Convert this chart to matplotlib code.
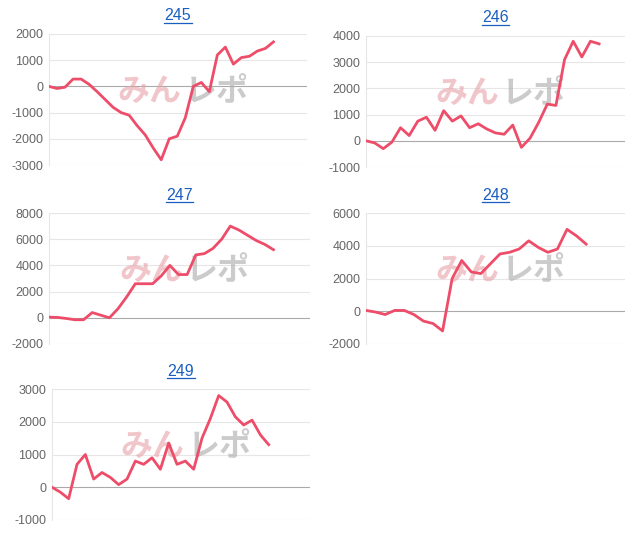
import matplotlib
matplotlib.use("Agg")
import matplotlib.pyplot as plt

plt.rcParams["axes.unicode_minus"] = False
plt.rcParams["font.family"] = ["Liberation Sans", "DejaVu Sans"]

titles = ["245", "246", "247", "248", "249"]
s245 = [0,-80,-30,280,280,80,-200,-500,-800,-1000,-1100,-1500,-1850,-2350,-2800,-2000,-1900,-1200,0,150,-200,1200,1500,850,1100,1150,1350,1450,1700]
s246 = [0,-80,-300,-50,500,200,750,900,400,1150,750,950,500,650,450,300,250,600,-250,100,700,1400,1350,3100,3800,3200,3800,3700]
s247 = [50,30,-50,-150,-150,400,200,0,700,1600,2600,2600,2600,3200,4000,3300,3300,4800,4900,5300,6000,7000,6700,6300,5900,5600,5200]
s248 = [50,-50,-200,50,50,-200,-600,-750,-1200,2000,3100,2400,2300,2900,3500,3600,3800,4300,3900,3600,3800,5000,4600,4100]
s249 = [0,-150,-350,700,1000,250,450,300,80,250,800,700,900,550,1350,700,800,550,1500,2100,2800,2600,2150,1900,2050,1600,1300]
series = [s245, s246, s247, s248, s249]
yticks = [[-3000,-2000,-1000,0,1000,2000],[-1000,0,1000,2000,3000,4000],
          [-2000,0,2000,4000,6000,8000],[-2000,0,2000,4000,6000],[-1000,0,1000,2000,3000]]
endfrac = [0.87, 0.90, 0.86, 0.85, 0.84]

fig = plt.figure(figsize=(6.36, 5.34), dpi=100)
W, H = 636, 534
boxes = [(49,34,307,165),(366,36,625,167),(49,213,310,344),(366,213,625,344),(52,389,310,520)]
for i,(x0,y0,x1,y1) in enumerate(boxes):
    ax = fig.add_axes([x0/W, 1-y1/H, (x1-x0)/W, (y1-y0)/H])
    d = series[i]
    n = len(d)-1
    ax.plot(range(len(d)), d, color="#ee4d6a", lw=2.0, solid_joinstyle="round", zorder=3)
    ax.set_xlim(0, n/endfrac[i])
    ax.set_ylim(yticks[i][0], yticks[i][-1])
    ax.set_yticks(yticks[i])
    ax.set_xticks([])
    for t in yticks[i]:
        ax.axhline(t, color="#aaaaaa" if t == 0 else "#e6e6e6", lw=0.8, zorder=1)
    for s in ["top","right","bottom"]:
        ax.spines[s].set_visible(False)
    ax.spines["left"].set_color("#e6e6e6")
    ax.tick_params(axis="y", length=0, labelsize=9, labelcolor="#666666", pad=4)
    ax.text(0.515, 0.56, "みん", transform=ax.transAxes, fontsize=23, fontweight="bold",
            style="italic", color="#e8a0a8", alpha=0.6, ha="right", va="center",
            family=["Noto Sans CJK JP"], zorder=2)
    ax.text(0.525, 0.56, "レポ", transform=ax.transAxes, fontsize=23, fontweight="bold",
            style="italic", color="#b0b0b0", alpha=0.65, ha="left", va="center",
            family=["Noto Sans CJK JP"], zorder=2)
    cx = (x0+x1)/2/W
    ty = y0 - 18
    fig.text(cx, 1-ty/H, titles[i], ha="center", va="center", fontsize=11.5, color="#1a5fc0")
    fig.add_artist(plt.Line2D([cx-0.022, cx+0.022], [1-(ty+7)/H]*2, color="#1a5fc0", lw=0.9))

fig.savefig("out.png", dpi=100)
